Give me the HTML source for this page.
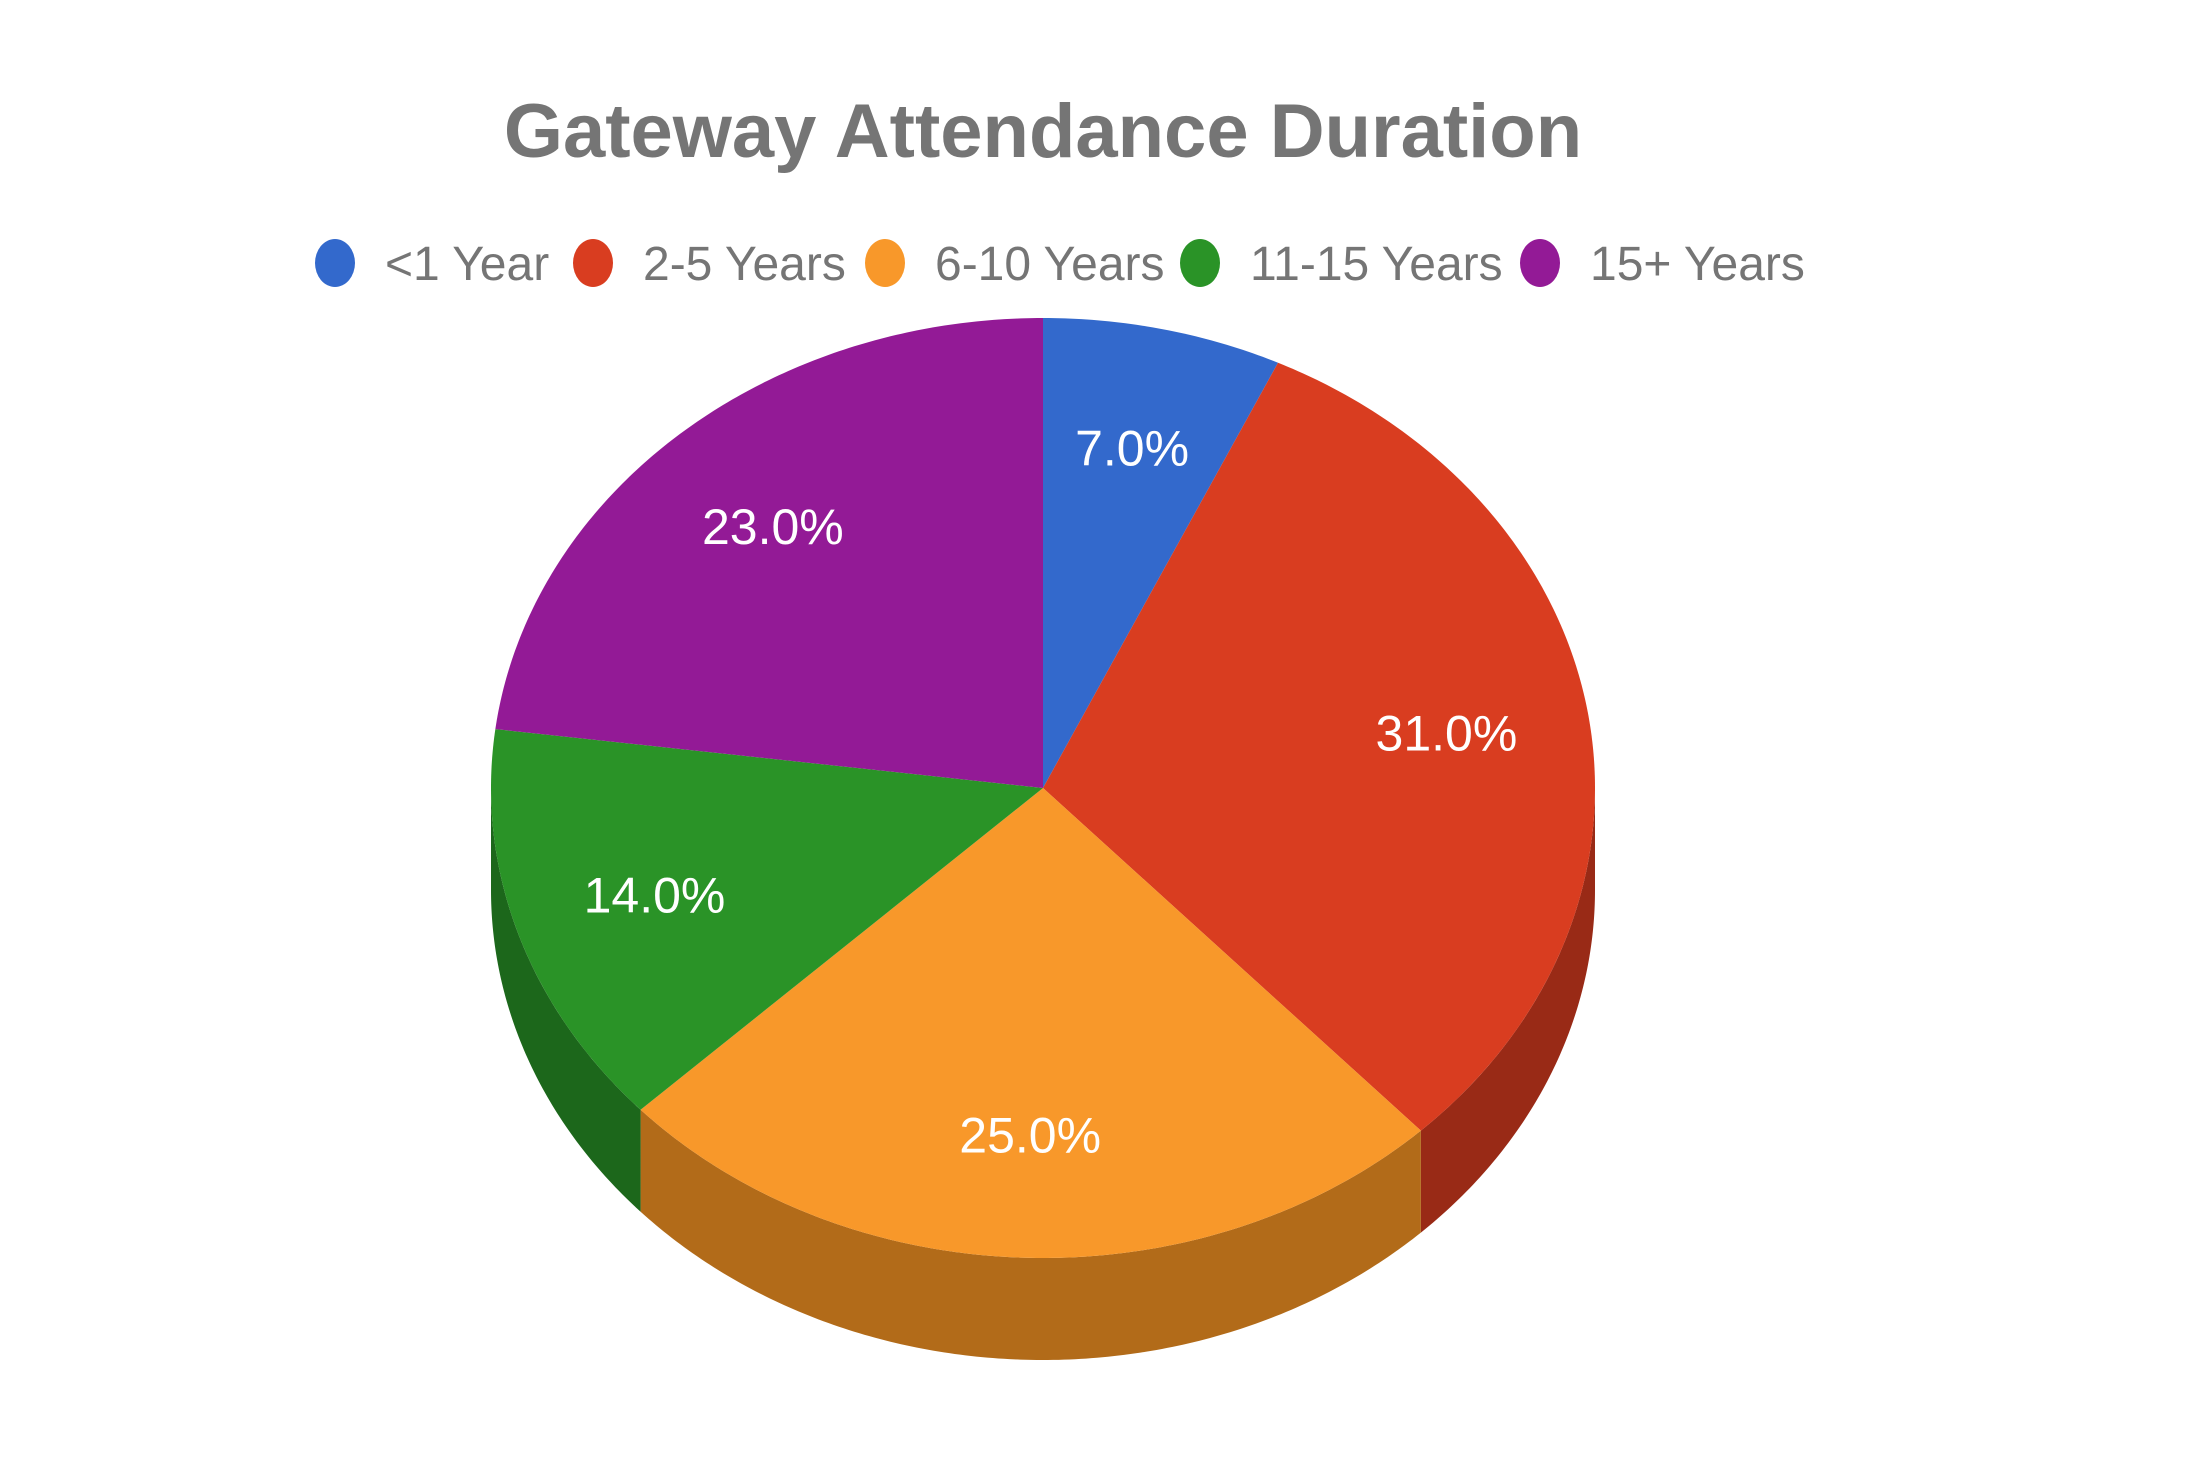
<!DOCTYPE html>
<html><head><meta charset="utf-8"><style>
html,body{margin:0;padding:0;background:#fff;}
svg{display:block;}
text{font-family:"Liberation Sans Narrow","Liberation Sans",sans-serif;}
</style></head><body>
<svg id="chart" width="2208" height="1478" viewBox="0 0 2208 1478">
<rect width="2208" height="1478" fill="#fff"/>
<text x="1043" y="157" text-anchor="middle" font-size="76" font-weight="bold" fill="#757575">Gateway Attendance Duration</text>
<g id="legend"></g>
<g id="sides"></g>
<g id="tops"></g>
<g id="labels"></g>
</svg>
<script>
const categories = ["<1 Year","2-5 Years","6-10 Years","11-15 Years","15+ Years"];
const values = [7,31,25,14,23];
const colors = ["#3369cc","#d93d20","#f8982a","#2a9327","#931a96"];
const sideColors = ["#22468c","#992a16","#b26b19","#1c671b","#661266"];
const legendX = [335,593,885,1200,1540];

const NS="http://www.w3.org/2000/svg";
const cx=1043, cy=788, rx=552, ry=470, depth=102;
function pt(t,dy){ return [cx+rx*Math.sin(t), cy-ry*Math.cos(t)+(dy||0)]; }
function arcPts(a,b,dy){ const n=Math.max(2,Math.ceil((b-a)/0.01)); const p=[]; for(let i=0;i<=n;i++){p.push(pt(a+(b-a)*i/n,dy));} return p; }
function mk(tag,attrs,parent){ const e=document.createElementNS(NS,tag); for(const k in attrs)e.setAttribute(k,attrs[k]); parent.appendChild(e); return e; }

const total=values.reduce((s,v)=>s+v,0);
const legend=document.getElementById('legend');
categories.forEach((c,i)=>{
  const d=mk('ellipse',{cx:legendX[i],cy:263,rx:20,ry:24,fill:colors[i]},legend);
  
  
  const t=mk('text',{x:legendX[i]+50,y:280,'font-size':48,fill:'#757575'},legend);
  t.textContent=c;
  
  
});

const sides=document.getElementById('sides'), tops=document.getElementById('tops'), labels=document.getElementById('labels');
let acc=0;
values.forEach((v,i)=>{
  const a=acc/total*2*Math.PI, b=(acc+v)/total*2*Math.PI; acc+=v;
  const fa=Math.max(a,Math.PI/2), fb=Math.min(b,1.5*Math.PI);
  if(fb>fa){
    const top=arcPts(fa,fb,0), bot=arcPts(fa,fb,depth).reverse();
    const s=mk('path',{d:'M'+top.concat(bot).map(p=>p.join(',')).join('L')+'Z',fill:sideColors[i]},sides);
    
    
  }
  const p=arcPts(a,b,0);
  const sl=mk('path',{d:'M'+cx+','+cy+'L'+p.map(q=>q.join(',')).join('L')+'Z',fill:colors[i]},tops);
  
  
  const m=(a+b)/2;
  const lx=cx+0.74*rx*Math.sin(m), ly=cy-0.74*ry*Math.cos(m);
  const t=mk('text',{x:lx,y:ly+17,'text-anchor':'middle','font-size':50,fill:'#fff'},labels);
  t.textContent=(v/total*100).toFixed(1)+'%';
  
  
});
</script>
</body></html>
